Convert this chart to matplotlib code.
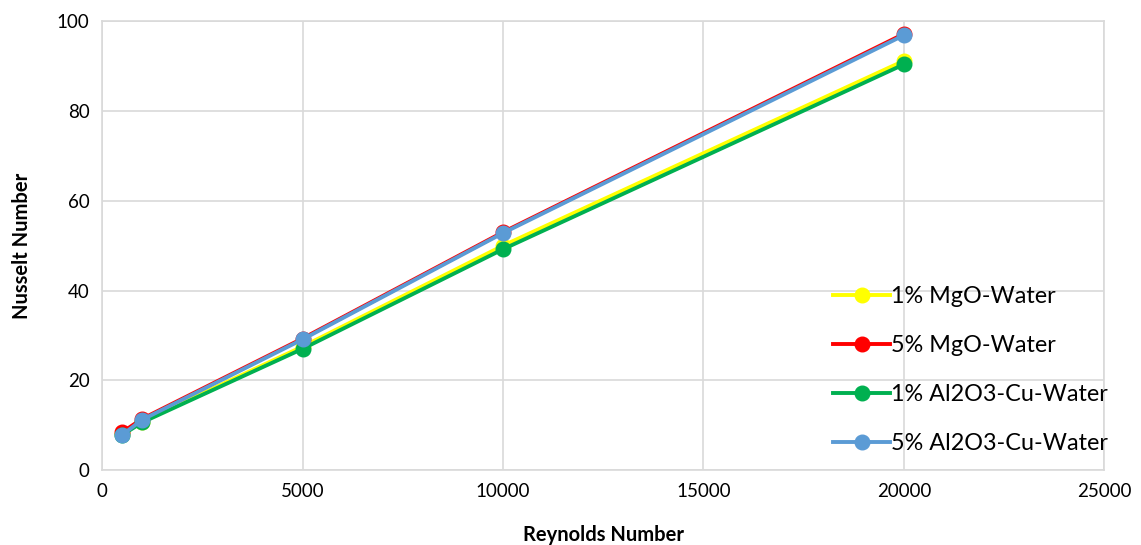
import matplotlib.pyplot as plt

plt.rcParams['font.family'] = ['Lato', 'DejaVu Sans']

reynolds = [500, 1000, 5000, 10000, 20000]
mgo_1 = [8.0, 10.8, 27.5, 50.0, 91.2]
mgo_5 = [8.4, 11.4, 29.3, 53.0, 97.2]
al_cu_1 = [7.8, 10.6, 27.0, 49.2, 90.4]
al_cu_5 = [7.8, 11.2, 29.1, 52.8, 96.9]

labels = ['1% MgO-Water', '5% MgO-Water', '1% Al2O3-Cu-Water', '5% Al2O3-Cu-Water']
colors = ['#ffff00', '#ff0000', '#00b050', '#5b9bd5']
series = [mgo_1, mgo_5, al_cu_1, al_cu_5]

fig = plt.figure(figsize=(11.41, 5.45), dpi=100)
ax = fig.add_axes([0.0894, 0.1376, 0.8786, 0.8234])

for vals, c, lab in zip(series, colors, labels):
    ax.plot(reynolds, vals, color=c, lw=2.8, marker='o', ms=10.5, label=lab)

ax.set_xlim(0, 25000)
ax.set_ylim(0, 100)
ax.set_xticks(range(0, 25001, 5000))
ax.set_yticks(range(0, 101, 20))
ax.grid(True, color='#d9d9d9', lw=1.2)
ax.set_axisbelow(True)
for s in ax.spines.values():
    s.set_color('#d9d9d9')
    s.set_linewidth(1.2)
ax.tick_params(length=0, labelsize=13.5, pad=9)
ax.set_xlabel('Reynolds Number', fontsize=14.5, fontweight='bold', labelpad=18)
ax.set_ylabel('Nusselt Number', fontsize=14.5, fontweight='bold', labelpad=18)

ax.legend(loc='lower right', bbox_to_anchor=(1.02, 0.0), frameon=False, fontsize=16.8,
          labelspacing=1.2, handlelength=2.45, handletextpad=0.05, borderaxespad=0.3)

fig.savefig('out.png', dpi=100)
